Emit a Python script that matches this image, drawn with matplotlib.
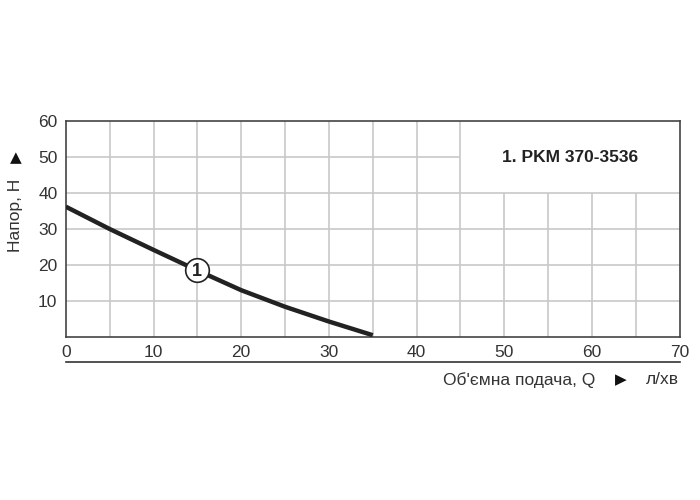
import matplotlib
matplotlib.use("Agg")
import matplotlib.pyplot as plt
plt.rcParams['font.family'] = ['Liberation Sans', 'DejaVu Sans']

q = [0, 5, 10, 15, 20, 25, 30, 35]
h = [36.2, 30.0, 24.2, 18.5, 13.0, 8.4, 4.3, 0.5]
xticks = [0, 10, 20, 30, 40, 50, 60, 70]
yticks = [10, 20, 30, 40, 50, 60]

fig = plt.figure(figsize=(7, 5), dpi=100)
ax = fig.add_axes([0.094, 0.326, 0.877, 0.432])
ax.set_xlim(0, 70)
ax.set_ylim(0, 60)
gc = "#c8c8c8"
for x in range(5, 70, 5):
    top = 60 if x <= 45 else 40
    ax.vlines(x, 0, top, color=gc, lw=1.2, zorder=1)
for y in range(10, 60, 10):
    right = 70 if y <= 40 else 45
    ax.hlines(y, 0, right, color=gc, lw=1.2, zorder=1)
ax.plot(q, h, color="#222222", lw=3.2, zorder=3, solid_capstyle="butt")
ax.plot([15], [18.5], 'o', ms=17, mfc="white", mec="#222222", mew=1.2, zorder=4)
ax.text(15, 18.3, "1", ha="center", va="center", fontsize=13, fontweight="bold", color="#222222", zorder=5)
ax.text(57.5, 50, "1. PKM 370-3536", ha="center", va="center", fontsize=12.5, fontweight="bold", color="#222222")
for s in ax.spines.values():
    s.set_color("#444444")
    s.set_linewidth(1.2)
ax.set_xticks(xticks)
ax.set_yticks(yticks)
ax.tick_params(length=0, labelsize=12.5, colors="#333333", pad=6)
ax.set_xticklabels([str(v) for v in xticks])
fig.add_artist(plt.Line2D([0.094, 0.971], [0.276, 0.276], color="#333333", lw=1.2))
fig.text(0.85, 0.24, "Об'ємна подача, Q", ha="right", va="center", fontsize=12.5, color="#333333")
fig.text(0.887, 0.24, "\u25B6", ha="center", va="center", fontsize=11, color="#111111", family="DejaVu Sans")
fig.text(0.947, 0.24, "л/хв", ha="center", va="center", fontsize=12.5, color="#333333")
fig.text(0.022, 0.57, "Напор, Н", ha="center", va="center", rotation=90, fontsize=12.5, color="#333333")
fig.text(0.022, 0.685, "\u25B2", ha="center", va="center", fontsize=11, color="#111111", family="DejaVu Sans")
fig.savefig("out.png", dpi=100)
